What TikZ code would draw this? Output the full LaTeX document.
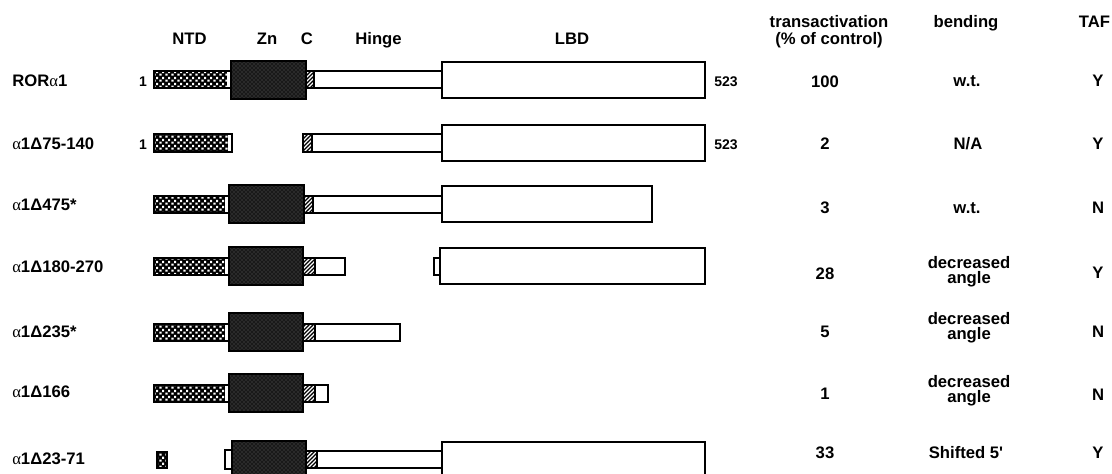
\documentclass[tikz,border=0pt]{standalone}
\usepackage{fontspec}
\setmainfont{Liberation Sans}
\newfontfamily\grk{Liberation Serif}
\usetikzlibrary{patterns}

\pgfdeclarepatternformonly{ntdstip}{\pgfqpoint{0pt}{0pt}}{\pgfqpoint{4.6pt}{4.6pt}}{\pgfqpoint{4.6pt}{4.6pt}}{%
  \pgfpathrectangle{\pgfqpoint{0.3pt}{0.3pt}}{\pgfqpoint{1.9pt}{1.7pt}}%
  \pgfpathrectangle{\pgfqpoint{2.6pt}{2.5pt}}{\pgfqpoint{1.7pt}{1.9pt}}%
  \pgfusepath{fill}}
\pgfdeclarepatternformonly{chatch}{\pgfqpoint{-1pt}{-1pt}}{\pgfqpoint{4pt}{4pt}}{\pgfqpoint{3pt}{3pt}}{%
  \pgfsetlinewidth{1pt}%
  \pgfpathmoveto{\pgfqpoint{0pt}{0pt}}%
  \pgfpathlineto{\pgfqpoint{3.1pt}{3.1pt}}%
  \pgfusepath{stroke}}

\newcommand\alp{{\grk\mdseries α}}

% x1, x2, y-centre
\newcommand\NTDbar[3]{%
  \fill[white] (#1,#3-8.5) rectangle (#2,#3+8.5);
  \path[ntdfill] (#1,#3-8.5) rectangle (#2-4,#3+8.5);
  \draw[boxline] (#1,#3-8.5) rectangle (#2,#3+8.5);}
\newcommand\ZNbox[3]{%
  \path[znfill] (#1,#3-19) rectangle (#2,#3+19);
  \draw[boxline] (#1,#3-19) rectangle (#2,#3+19);}
\newcommand\Cbox[3]{%
  \fill[white] (#1,#3-8.5) rectangle (#2,#3+8.5);
  \path[pattern=chatch] (#1,#3-8.5) rectangle (#2,#3+8.5);
  \draw[boxline] (#1,#3-8.5) rectangle (#2,#3+8.5);}
\newcommand\Hbox[3]{%
  \draw[boxline,fill=white] (#1,#3-8.5) rectangle (#2,#3+8.5);}
\newcommand\LBDbox[3]{%
  \draw[boxline,fill=white] (#1,#3-18) rectangle (#2,#3+18);}

\begin{document}
\begin{tikzpicture}[x=0.75pt,y=-0.75pt,
  boxline/.style={draw=black,line width=1.5pt},
  ntdfill/.style={fill=black,postaction={pattern=ntdstip,pattern color=white}},
  znfill/.style={fill=black!90,postaction={pattern=crosshatch dots,pattern color=black!60}},
  txt/.style={inner sep=0pt,font=\bfseries\fontsize{12.5}{13}\selectfont},
  lbl/.style={txt,anchor=base west},
  hdr/.style={txt,anchor=base},
  cell/.style={txt,anchor=base},
  endnum/.style={inner sep=0pt,font=\bfseries\fontsize{10.5}{12}\selectfont,anchor=base},
  two/.style={inner sep=0pt,align=center,font=\bfseries\fontsize{12.5}{11.25}\selectfont,anchor=center}]
\useasboundingbox (0,0) rectangle (1112,474);
\clip (0,0) rectangle (1112,474);
\fill[white] (0,0) rectangle (1112,474);

% headers
\node[hdr] (hNTD) at (189.5,44.5) {NTD};
\node[hdr] (hZn) at (267,44.5) {Zn};
\node[hdr] (hC) at (307,44.5) {C};
\node[hdr] (hHinge) at (378.5,44.5) {Hinge};
\node[hdr] (hLBD) at (572,45) {LBD};
\node[hdr] (hTA1) at (829,28) {transactivation};
\node[hdr] (hTA2) at (829,44.5) {(\% of control)};
\node[hdr] (hBend) at (966,27.5) {bending};
\node[hdr] (hTAF) at (1094.5,27.5) {TAF};

% row labels
\node[lbl] (l1) at (12,86.5) {ROR\alp1};
\node[lbl] (l2) at (12,149) {\alp1Δ75-140};
\node[lbl] (l3) at (12,210) {\alp1Δ475*};
\node[lbl] (l4) at (12,272) {\alp1Δ180-270};
\node[lbl] (l5) at (12,337.5) {\alp1Δ235*};
\node[lbl] (l6) at (12,397.5) {\alp1Δ166};
\node[lbl] (l7) at (12,464) {\alp1Δ23-71};

% residue numbers
\node[endnum] (s1) at (143,87) {1};
\node[endnum] (s2) at (143,150) {1};
\node[endnum] (e1) at (726,87) {523};
\node[endnum] (e2) at (726,150) {523};

% row 1
\Hbox{314}{442}{80}
\LBDbox{442}{705}{80}
\NTDbar{154}{231}{80}
\Cbox{306}{314}{80}
\ZNbox{231}{306}{80}
% row 2
\Hbox{312}{442}{143}
\LBDbox{442}{705}{143}
\NTDbar{154}{232}{143}
\Cbox{303}{312}{143}
% row 3
\Hbox{313}{442}{204}
\LBDbox{442}{652}{204}
\NTDbar{154}{229}{204}
\Cbox{304}{313}{204}
\ZNbox{229}{304}{204}
% row 4
\Hbox{315}{345}{266}
\Hbox{434}{440}{266}
\LBDbox{440}{705}{266}
\NTDbar{154}{229}{266}
\Cbox{303}{315}{266}
\ZNbox{229}{303}{266}
% row 5
\Hbox{315}{400}{332}
\NTDbar{154}{229}{332}
\Cbox{303}{315}{332}
\ZNbox{229}{303}{332}
% row 6
\Hbox{315}{328}{393}
\NTDbar{154}{229}{393}
\Cbox{303}{315}{393}
\ZNbox{229}{303}{393}
% row 7
\Hbox{317}{442}{459.5}
\LBDbox{442}{705}{459.5}
\path[ntdfill] (157,451.5) rectangle (167,467.5);
\draw[boxline] (157,451.5) rectangle (167,467.5);
\draw[boxline,fill=white] (225,450) rectangle (232,469);
\Cbox{306}{317}{459.5}
\ZNbox{232}{306}{459.5}

% transactivation
\node[cell] (t1) at (825,88) {100};
\node[cell] (t2) at (825,150) {2};
\node[cell] (t3) at (825,213) {3};
\node[cell] (t4) at (825,279) {28};
\node[cell] (t5) at (825,337) {5};
\node[cell] (t6) at (825,399) {1};
\node[cell] (t7) at (825,458) {33};

% bending
\node[cell] (b1) at (967,87) {w.t.};
\node[cell] (b2) at (968,150) {N/A};
\node[cell] (b3) at (967,213) {w.t.};
\node[two] (b4) at (969,271.5) {decreased\\angle};
\node[two] (b5) at (969,327.5) {decreased\\angle};
\node[two] (b6) at (969,391) {decreased\\angle};
\node[cell] (b7) at (966,458) {Shifted 5\textquotesingle};

% TAF
\node[cell] (f1) at (1098,87) {Y};
\node[cell] (f2) at (1098,150) {Y};
\node[cell] (f3) at (1098,213) {N};
\node[cell] (f4) at (1098,278) {Y};
\node[cell] (f5) at (1098,337) {N};
\node[cell] (f6) at (1098,400) {N};
\node[cell] (f7) at (1098,458) {Y};
\end{tikzpicture}
\end{document}
